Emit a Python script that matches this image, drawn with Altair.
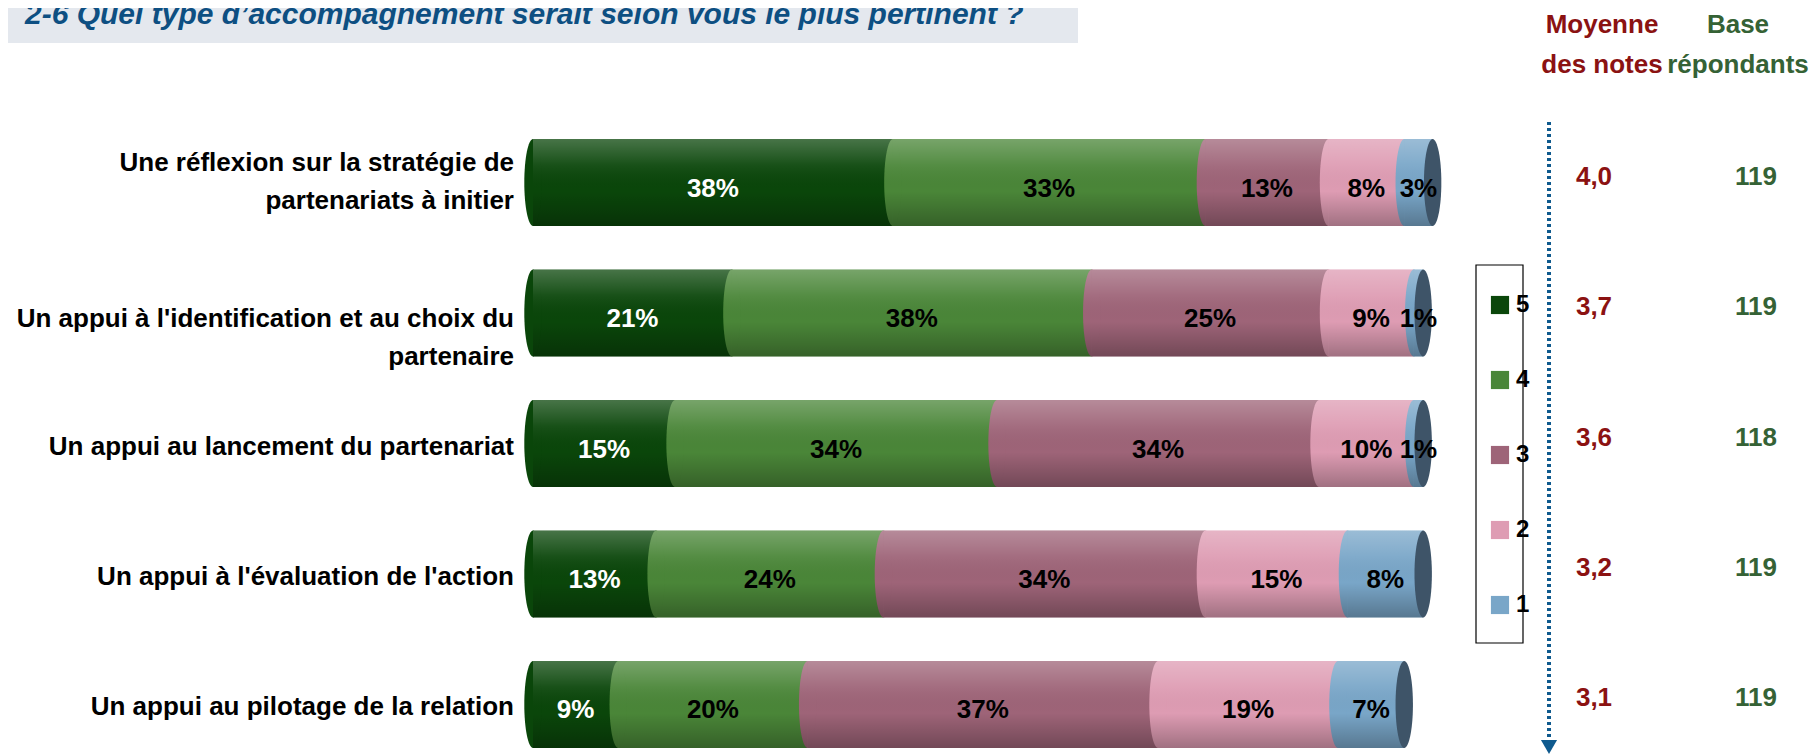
import altair as alt
import pandas as pd

# ---------------- data ----------------
categories = [
    "Une réflexion sur la stratégie de|partenariats à initier",
    "Un appui à l'identification et au choix du|partenaire",
    "Un appui au lancement du partenariat",
    "Un appui à l'évaluation de l'action",
    "Un appui au pilotage de la relation",
]
ratings = [5, 4, 3, 2, 1]
pct_5 = [38, 21, 15, 13, 9]
pct_4 = [33, 38, 34, 24, 20]
pct_3 = [13, 25, 34, 34, 37]
pct_2 = [8, 9, 10, 15, 19]
pct_1 = [3, 1, 1, 8, 7]
means = ["4,0", "3,7", "3,6", "3,2", "3,1"]
bases = ["119", "119", "118", "119", "119"]
colors = ["#0A460A", "#4A8638", "#9E6478", "#DE9CB3", "#79A6C8"]
cap_color = "#3E5468"

title_text = "2-6 Quel type d\u2019accompagnement serait selon vous le plus pertinent ?"
head_mean = ["Moyenne", "des notes"]
head_base = ["Base", "répondants"]

NARROW = "Liberation Sans Narrow, Arial Narrow, Liberation Sans, sans-serif"
SANS = "Liberation Sans, Arial, sans-serif"

series = {5: pct_5, 4: pct_4, 3: pct_3, 2: pct_2, 1: pct_1}
rows = []
for r in ratings:
    for i, c in enumerate(categories):
        rows.append({"cat": c, "idx": i, "rating": r, "pct": series[r][i]})
df = pd.DataFrame(rows)
lab_df = pd.DataFrame({"cat": categories, "idx": list(range(5)), "mean": means, "base": bases})
one = pd.DataFrame({"a": [0]})

W, H = 947, 609
yenc = alt.Y("cat:N", sort=categories, axis=None,
             scale=alt.Scale(paddingInner=0.333, paddingOuter=0))
xscale = alt.Scale(domain=[0, 100], nice=False, zero=True)

base = alt.Chart(df).transform_stack(
    stack="pct", groupby=["cat"], as_=["x0", "x1"],
    sort=[alt.SortField("rating", order="descending")],
)

bars = base.mark_bar(stroke=None).encode(
    x=alt.X("x0:Q", scale=xscale, axis=None),
    x2="x1:Q",
    y=yenc,
    color=alt.Color(
        "rating:O",
        scale=alt.Scale(domain=ratings, range=colors),
        legend=alt.Legend(
            orient="none", legendX=955, legendY=154, title=None,
            symbolType="square", symbolSize=330, symbolStrokeWidth=0,
            symbolOpacity=1, labelFont=NARROW, labelFontSize=24,
            labelFontWeight="bold", labelColor="black", rowPadding=51,
            padding=0, labelOffset=4,
        ),
    ),
)

ellipse = "M0,-1 A0.2,1 0 0,1 0,1 A0.2,1 0 0,1 0,-1 Z"

edges = base.mark_point(shape=ellipse, filled=True, size=7569, opacity=1,
                        strokeWidth=0).encode(
    x=alt.X("x0:Q", scale=xscale, axis=None),
    y=yenc,
    fill=alt.Fill("rating:O", scale=alt.Scale(domain=ratings, range=colors),
                  legend=None),
)

shade = base.mark_bar(
    fill={
        "gradient": "linear", "x1": 0, "y1": 0, "x2": 0, "y2": 1,
        "stops": [
            {"offset": 0, "color": "rgba(255,255,255,0.25)"},
            {"offset": 0.3, "color": "rgba(255,255,255,0.06)"},
            {"offset": 0.6, "color": "rgba(0,0,0,0.0)"},
            {"offset": 1, "color": "rgba(0,0,0,0.28)"},
        ],
    }
).encode(x=alt.X("x0:Q", scale=xscale, axis=None), x2="x1:Q", y=yenc)

caps = base.transform_filter("datum.rating == 1").mark_point(
    shape=ellipse, filled=True, size=7569, opacity=1, strokeWidth=0,
    color=cap_color,
).encode(x=alt.X("x1:Q", scale=xscale, axis=None), y=yenc)

pct_text = base.transform_calculate(
    mid="(datum.x0 + datum.x1) / 2", lab="datum.pct + '%'"
).mark_text(font=NARROW, fontSize=26, fontWeight="bold", dy=6).encode(
    x=alt.X("mid:Q", scale=xscale, axis=None),
    y=yenc,
    text="lab:N",
    color=alt.condition("datum.rating == 5", alt.value("white"), alt.value("black")),
)


def label_layer(flt, dy):
    return alt.Chart(lab_df).transform_filter(flt).transform_calculate(
        lines="split(datum.cat, '|')"
    ).mark_text(font=SANS, fontSize=26, fontWeight="bold", align="right",
                baseline="middle", lineHeight=38, dy=dy).encode(
        x=alt.value(-19), y=yenc, text="lines:N")


labels_a = label_layer("datum.idx == 0", -20)
labels_b = label_layer("datum.idx == 1", 6)
labels_c = label_layer("datum.idx >= 2", 3)

mean_text = alt.Chart(lab_df).mark_text(
    font=NARROW, fontSize=26, fontWeight="bold", color="#8B1212", dy=-6
).encode(x=alt.value(1061), y=yenc, text="mean:N")

base_text = alt.Chart(lab_df).mark_text(
    font=NARROW, fontSize=26, fontWeight="bold", color="#356235", dy=-6
).encode(x=alt.value(1223), y=yenc, text="base:N")

head1 = alt.Chart(one).mark_text(
    font=SANS, fontSize=26, fontWeight="bold", color="#8B1212",
    lineHeight=40, text=head_mean,
).encode(x=alt.value(1069), y=alt.value(-114))

head2 = alt.Chart(one).mark_text(
    font=SANS, fontSize=26, fontWeight="bold", color="#356235",
    lineHeight=40, text=head_base,
).encode(x=alt.value(1205), y=alt.value(-114))

legend_box = alt.Chart(one).mark_rect(
    filled=False, stroke="black", strokeWidth=1.2
).encode(x=alt.value(943), x2=alt.value(990), y=alt.value(126), y2=alt.value(504))

dots = alt.Chart(one).mark_rule(
    strokeDash=[3, 3], strokeWidth=4, color="#0F5A8E"
).encode(x=alt.value(1016), y=alt.value(-17), y2=alt.value(602))

arrow = alt.Chart(one).mark_point(
    shape="triangle-down", filled=True, size=260, opacity=1, color="#0F5A8E"
).encode(x=alt.value(1016), y=alt.value(608))

band = alt.Chart(one).mark_rect(color="#E4E8EE").encode(
    x=alt.value(-527), x2=alt.value(545), y=alt.value(-140), y2=alt.value(-96))

title = alt.Chart(one).mark_text(
    font=NARROW, fontSize=30, fontWeight="bold", fontStyle="italic",
    color="#0D4F82", align="left", baseline="alphabetic", text=title_text,
).encode(x=alt.value(-508), y=alt.value(-115))

chart = alt.layer(
    band, title, bars, edges, shade, caps, pct_text, labels_a, labels_b, labels_c,
    mean_text, base_text, head1, head2, legend_box, dots, arrow,
).properties(
    width=W, height=H,
    autosize=alt.AutoSizeParams(type="none"),
    padding={"left": 525, "top": 131, "right": 330, "bottom": 7},
).configure_view(stroke=None)

chart.save("out.html", embed_options={"renderer": "svg", "actions": False})
